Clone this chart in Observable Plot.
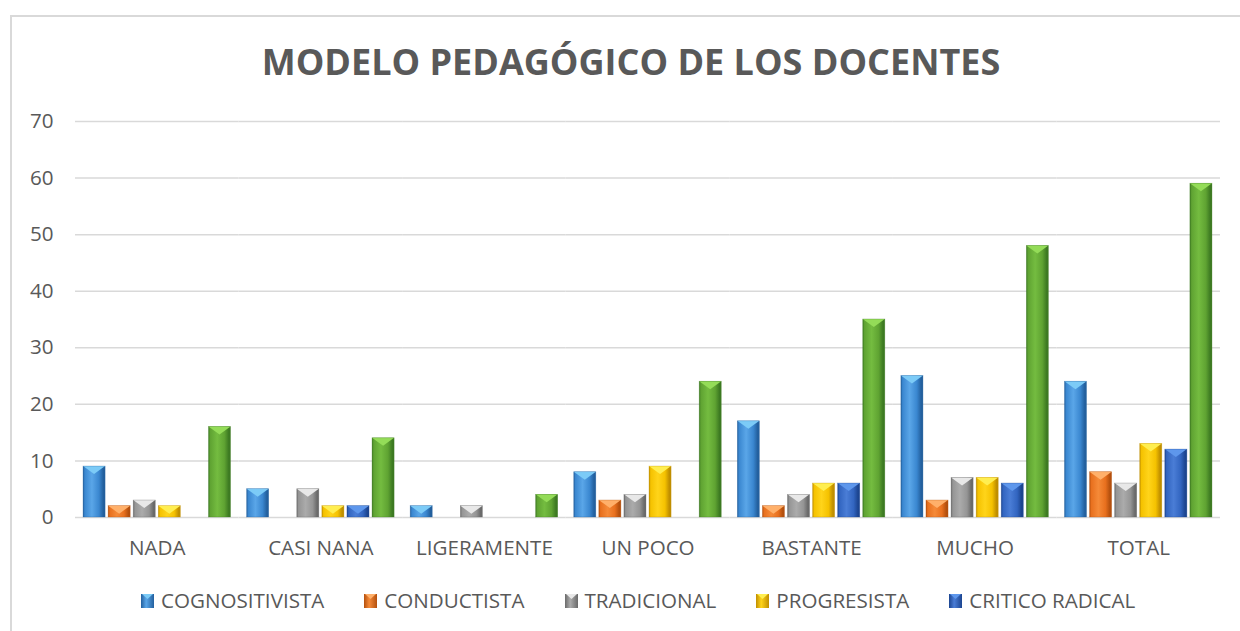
<!DOCTYPE html>
<html><head><meta charset="utf-8">
<script src="https://cdn.jsdelivr.net/npm/d3@7"></script>
<script src="https://cdn.jsdelivr.net/npm/@observablehq/plot@0.6"></script>
<style>
body{margin:0;background:#fff;width:1240px;height:631px;overflow:hidden;position:relative;font-family:"Open Sans",sans-serif;color:#595959}
#frame{position:absolute;left:10px;top:15px;width:1300px;height:700px;border-top:2px solid #d9d9d9;border-left:2px solid #d9d9d9;box-sizing:border-box}
#title{position:absolute;left:0;width:1262px;top:44px;text-align:center;font-size:36px;line-height:36px;font-weight:700;white-space:nowrap}
#chart{position:absolute;left:0;top:100px}
#legend{position:absolute;left:141px;top:590px;display:flex;gap:40px;font-size:20.6px;line-height:21px;white-space:nowrap}
.item{display:flex;align-items:center;gap:7px}
.item svg{display:block}
</style>
</head><body>
<div id="frame"></div>
<div id="title">MODELO PEDAGÓGICO DE LOS DOCENTES</div>
<div id="chart"></div>
<div id="legend"></div>
<script>
const categories = ["NADA","CASI NANA","LIGERAMENTE","UN POCO","BASTANTE","MUCHO","TOTAL"];
const series = ["COGNOSITIVISTA","CONDUCTISTA","TRADICIONAL","PROGRESISTA","CRITICO RADICAL","TOTAL"];
const cognositivista = [9,5,2,8,17,25,24];
const conductista    = [2,0,0,3,2,3,8];
const tradicional    = [3,5,2,4,4,7,6];
const progresista    = [2,2,0,9,6,7,13];
const criticoRadical = [0,2,0,0,6,6,12];
const totalSerie     = [16,14,4,24,35,48,59];
const yTicks = [0,10,20,30,40,50,60,70];
const legendSeries = ["COGNOSITIVISTA","CONDUCTISTA","TRADICIONAL","PROGRESISTA","CRITICO RADICAL"];

const palette = [
  {dark:"#23609E", base:"#3A87D0", light:"#5AA6E8", chev:"#7CCBF7"},
  {dark:"#B4500E", base:"#E8701E", light:"#F58A38", chev:"#FFB06A"},
  {dark:"#6A6A6A", base:"#959595", light:"#ABABAB", chev:"#E8E8E8"},
  {dark:"#C08F00", base:"#F5C200", light:"#FFD41A", chev:"#FFEE50"},
  {dark:"#1C4590", base:"#3265C0", light:"#4A7DD6", chev:"#5E97EC"},
  {dark:"#3D7A22", base:"#5FA332", light:"#74BC40", chev:"#94DC58"}
];

const seriesValues = [cognositivista, conductista, tradicional, progresista, criticoRadical, totalSerie];
const rows = [];
categories.forEach((c, i) => seriesValues.forEach((vals, j) => rows.push({category: c, serie: series[j], value: vals[i]})));

const svg = Plot.plot({
  width: 1240,
  height: 470,
  marginLeft: 75,
  marginRight: 20,
  marginTop: 21,
  marginBottom: 53,
  style: {fontFamily: "'Open Sans', sans-serif", fontSize: "20.6px", color: "#595959", background: "transparent", overflow: "visible"},
  fx: {domain: categories, paddingInner: 0, paddingOuter: 0, round: false, axis: "bottom", label: null, tickSize: 0, tickPadding: 23},
  x: {domain: series, axis: null, round: false, paddingInner: 0.12, paddingOuter: 0.32},
  y: {domain: [0, 70], ticks: yTicks, tickSize: 0, tickPadding: 22, label: null},
  marks: [
    Plot.ruleY(yTicks, {stroke: "#d9d9d9", strokeWidth: 1.5}),
    ...series.map((s, j) => Plot.barY(rows.filter(d => d.serie === s), {
      fx: "category", x: "serie", y: "value", fill: `url(#grad${j})`
    }))
  ]
});

const defs = d3.select(svg).insert("defs", ":first-child");
palette.forEach((p, j) => {
  const g = defs.append("linearGradient").attr("id", "grad" + j)
    .attr("x1", "0").attr("x2", "1").attr("y1", "0").attr("y2", "0");
  [[0, p.dark], [0.08, p.base], [0.4, p.light], [0.72, p.base], [0.92, p.dark], [1, p.dark]]
    .forEach(([o, c]) => g.append("stop").attr("offset", o).attr("stop-color", c));
});

palette.forEach((p, j) => {
  d3.select(svg).selectAll(`g[fill="url(#grad${j})"] rect`).each(function() {
    const r = d3.select(this);
    const x = +r.attr("x"), y = +r.attr("y"), w = +r.attr("width"), h = +r.attr("height");
    if (!(h > 0.5)) return;
    const hh = Math.min(8, h);
    d3.select(this.parentNode).append("polygon")
      .attr("points", `${x},${y} ${x + w},${y} ${x + w / 2},${y + hh}`)
      .attr("fill", p.chev).attr("stroke", "none");
    d3.select(this.parentNode).append("rect")
      .attr("x", x).attr("y", y).attr("width", w).attr("height", h)
      .attr("fill", "none").attr("stroke", p.dark).attr("stroke-opacity", 0.5).attr("stroke-width", 0.6);
  });
});

document.getElementById("chart").appendChild(svg);

const legend = d3.select("#legend");
legendSeries.forEach((s) => {
  const j = series.indexOf(s);
  const p = palette[j];
  const it = legend.append("div").attr("class", "item");
  const sw = it.append("svg").attr("width", 13).attr("height", 14);
  const gid = "lg" + j;
  const lg = sw.append("defs").append("linearGradient").attr("id", gid).attr("x1", "0").attr("x2", "1").attr("y1", "0").attr("y2", "0");
  [[0, p.dark], [0.4, p.light], [1, p.dark]].forEach(([o, c]) => lg.append("stop").attr("offset", o).attr("stop-color", c));
  sw.append("rect").attr("width", 13).attr("height", 14).attr("fill", `url(#${gid})`);
  sw.append("polygon").attr("points", "1,0 12,0 6.5,5").attr("fill", p.chev);
  it.append("span").text(s);
});
</script>
</body></html>
